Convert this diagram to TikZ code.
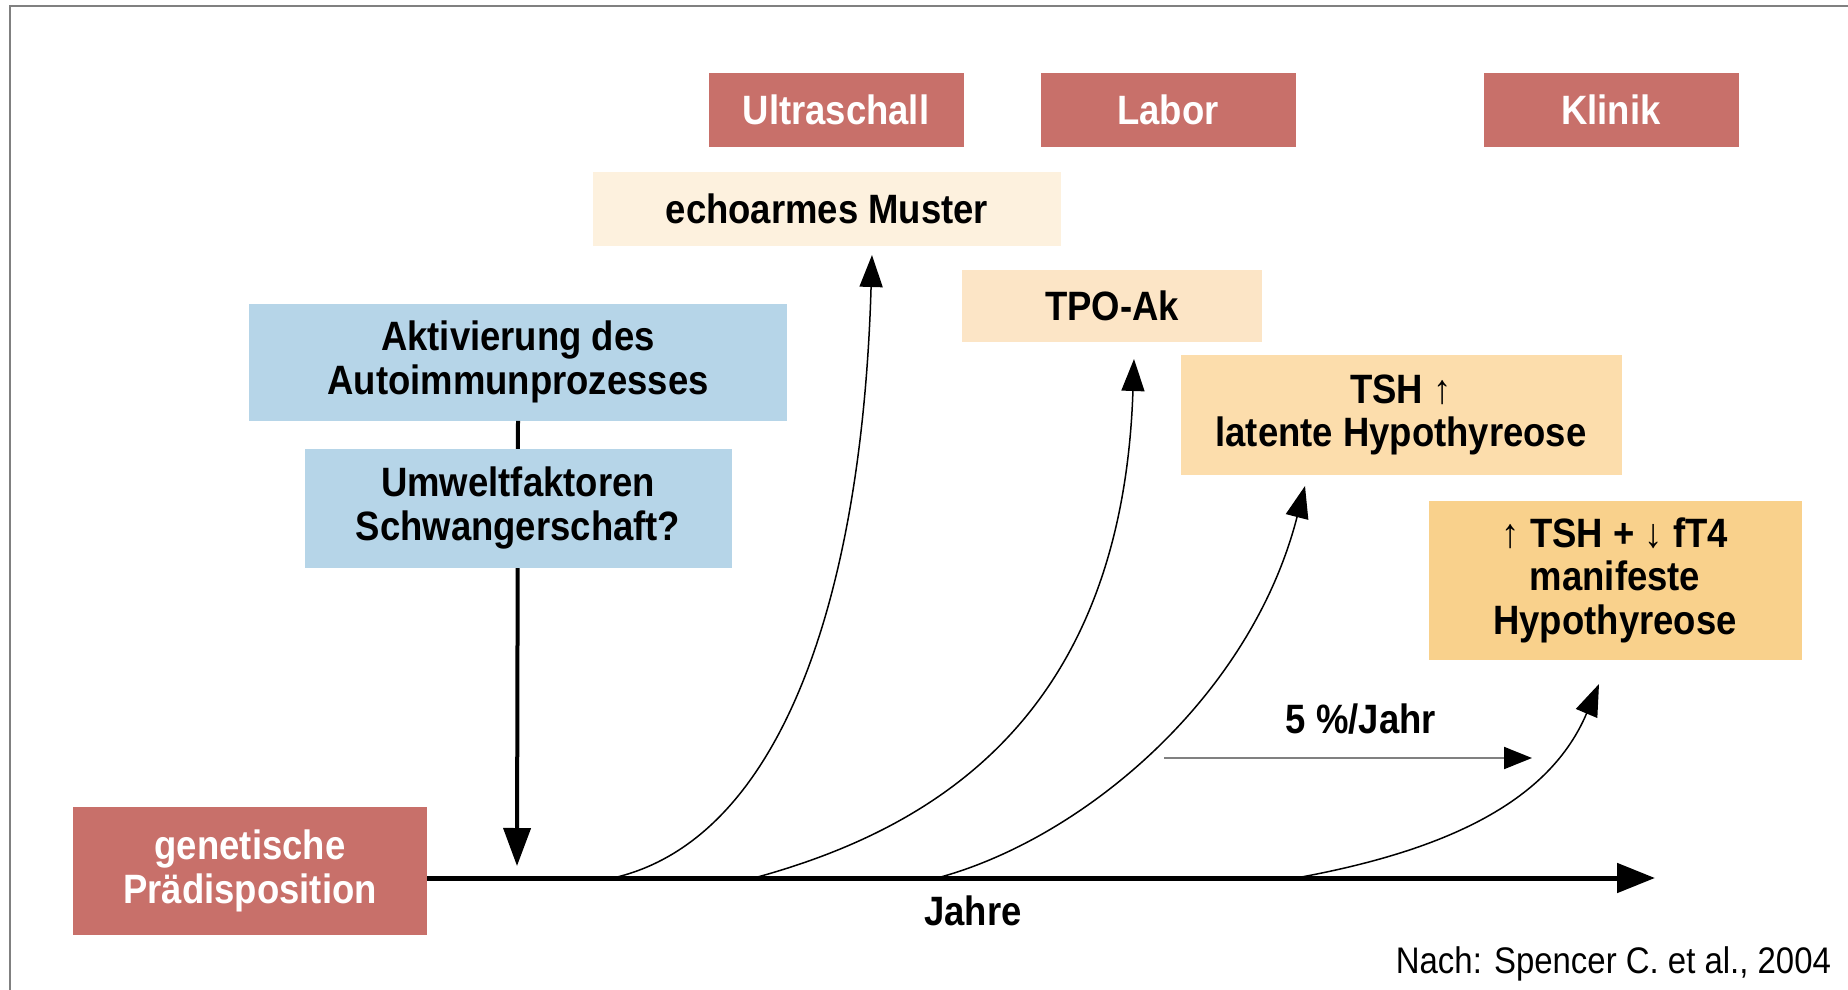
\documentclass[tikz,border=0pt]{standalone}
\usepackage{fontspec}
\setmainfont{Liberation Sans}[FakeStretch=0.89]
\usepackage{tikz}
\usetikzlibrary{positioning, arrows.meta, calc}
\definecolor{klinikred}{RGB}{200,112,106}
\definecolor{autoblue}{RGB}{182,213,232}
\definecolor{echocolor}{RGB}{253,241,222}
\definecolor{tpocolor}{RGB}{252,229,198}
\definecolor{latentcolor}{RGB}{252,221,172}
\definecolor{manifestcolor}{RGB}{249,209,140}
\definecolor{framegray}{RGB}{128,128,128}
\newcommand{\boxfont}{\fontsize{20.5}{21.7}\selectfont\bfseries}

\begin{document}
\begin{tikzpicture}[x=0.5pt, y=-0.5pt,
    kasten/.style={inner sep=0pt, align=center, font=\boxfont},
    rotkasten/.style={kasten, fill=klinikred, text=white},
    verlauf/.style={line width=0.75pt, -{Triangle[length=16pt, width=11.5pt]}}]
    \useasboundingbox (0,0) rectangle (1848,990);

    % === RAHMEN ===
    \draw[framegray, line width=1pt] (10,990) -- (10,6) -- (1848,6);

    % === KOPFZEILE ===
    \node[rotkasten, minimum width=127.5pt, minimum height=37pt] (ultra) at (836,110) {Ultraschall};
    \node[rotkasten, minimum width=127.5pt, minimum height=37pt] (labor) at (1168,110) {Labor};
    \node[rotkasten, minimum width=127.5pt, minimum height=37pt] (klinik) at (1611,110) {Klinik};

    % === BEFUNDE ===
    \node[kasten, fill=echocolor, minimum width=234pt, minimum height=36.5pt] (echo) at (827,209) {echoarmes Muster};
    \node[kasten, fill=tpocolor, minimum width=150pt, minimum height=36pt] (tpo) at (1112,306) {TPO-Ak};
    \node[kasten, fill=latentcolor, minimum width=220.5pt, minimum height=60pt] (latent) at (1401,415) {TSH ↑\\latente Hypothyreose};
    \node[kasten, fill=manifestcolor, minimum width=186.5pt, minimum height=79.5pt] (manifest) at (1615,580) {↑ TSH + ↓ fT4\\manifeste\\Hypothyreose};

    % === AUSLOESER ===
    \node[kasten, fill=autoblue, minimum width=269pt, minimum height=58.5pt] (akt) at (518,362) {Aktivierung des\\Autoimmunprozesses};
    \coordinate (vtip) at (517,866);
    \draw[line width=2pt, -{Triangle[length=19pt, width=13.5pt]}] (akt.south) -- (vtip);
    \node[kasten, fill=autoblue, minimum width=213.5pt, minimum height=59.5pt] (umwelt) at (518,508) {Umweltfaktoren\\Schwangerschaft?};

    % === ZEITACHSE ===
    \node[rotkasten, minimum width=177pt, minimum height=64pt] (gen) at (250,871) {genetische\\Prädisposition};
    \coordinate (axend) at (1655,878);
    \draw[line width=2.5pt, -{Triangle[length=19pt, width=14.5pt]}] (gen.east |- axend) -- (axend);
    \node[font=\boxfont] (jahre) at (973,911) {Jahre};

    % Startpunkte auf der Achse und Pfeilspitzen
    \coordinate (s1) at (613,878);
    \coordinate (s2) at (754,878);
    \coordinate (s3) at (937,878);
    \coordinate (s4) at (1296,878);
    \coordinate (t1) at (872,255);
    \coordinate (t2) at (1134,359);
    \coordinate (t3) at (1305,486);
    \coordinate (t4) at (1599,684);

    % Kurven
    \draw[verlauf] (s1) .. controls (780,840) and (862,600) .. (t1);
    \draw[verlauf] (s2) .. controls (930,830) and (1122,720) .. (t2);
    \draw[verlauf] (s3) .. controls (1080,840) and (1250,700) .. (t3);
    \draw[verlauf] (s4) .. controls (1450,850) and (1550,800) .. (t4);

    % Uebergangsrate
    \coordinate (rstart) at (1164,758);
    \coordinate (rend) at (1532,758);
    \draw[gray, line width=1pt, -{Triangle[length=14pt, width=11pt, color=black]}] (rstart) -- (rend);
    \node[font=\boxfont] (rate) at (1361,719) {5 \%/Jahr};

    % Quelle
    \node[anchor=east, font=\fontsize{18.5}{20}\selectfont] (quelle) at (1838,964) {Nach: Spencer C. et al., 2004};

\end{tikzpicture}
\end{document}
